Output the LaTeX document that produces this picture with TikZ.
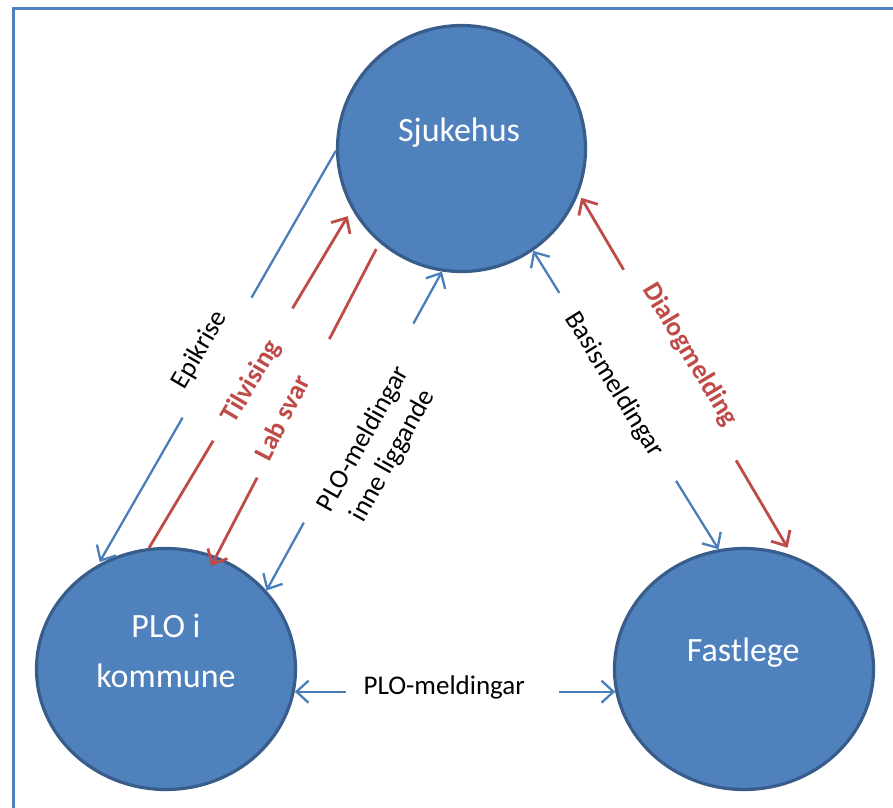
\documentclass[tikz,border=0pt]{standalone}
\usepackage{fontspec}
\setmainfont{Carlito}
\usetikzlibrary{shapes.geometric,arrows.meta}
\definecolor{nodefill}{HTML}{4F81BD}
\definecolor{nodeborder}{HTML}{385D8A}
\definecolor{linkblue}{HTML}{4A7EBB}
\definecolor{linkred}{HTML}{BE4B48}
\definecolor{framecol}{HTML}{4F81BD}
\begin{document}
\begin{tikzpicture}[x=1pt,y=-1pt,
  >={Straight Barb[length=12pt,width=22pt]},
  party/.style={ellipse, draw=nodeborder, line width=3.2pt, fill=nodefill, inner sep=0pt},
  partytext/.style={text=white, font=\fontsize{34}{50}\selectfont, align=center, inner sep=0pt},
  bluelink/.style={draw=linkblue, line width=2.3pt},
  redlink/.style={draw=linkred, line width=2.8pt},
  linkgap/.style={fill=white, inner sep=0pt, minimum height=7pt, sloped},
  lbl/.style={font=\fontsize{27}{34}\selectfont, inner sep=0pt},
  redlbl/.style={inner sep=0pt, text=linkred, font=\fontsize{27}{34}\selectfont\bfseries},
]
\useasboundingbox (0,0) rectangle (893,807);
\draw[framecol, line width=3pt] (13,830) -- (13,8.5) -- (910,8.5);

\node[party, minimum width=248pt, minimum height=246pt] (sj) at (461.5,148.5) {};
\node[party, minimum width=259pt, minimum height=241pt] (plo) at (166,669) {};
\node[party, minimum width=259pt, minimum height=241pt] (fl) at (744,669) {};

\node[partytext] (sjt) at (459,132.5) {Sjukehus};
\node[partytext] (plot) at (166,651) {PLO i\\kommune};
\node[partytext] (flt) at (743.3,652.5) {Fastlege};

\draw[bluelink, ->, shorten >=3pt] (sj.181.6) -- node[linkgap, pos=0.5, minimum width=138pt] (g1) {} (plo.123.8);
\draw[redlink, ->, shorten >=8pt] (plo.98.5) -- node[linkgap, pos=0.512, minimum width=154pt] (g2) {} (sj.209);
\draw[redlink, ->, shorten <=7pt, shorten >=-11pt] (sj.229) -- node[linkgap, pos=0.528, minimum width=156pt] (g3) {} (plo.66.9);
\draw[bluelink, <->] (sj.261.5) -- node[linkgap, pos=0.475, minimum width=227pt] (g4) {} (plo.38.7);
\draw[bluelink, <->] (sj.305.2) -- node[linkgap, pos=0.456, minimum width=221pt] (g5) {} (fl.102.1);
\draw[redlink, <->, shorten <=5pt, shorten >=9pt] (sj.339.1) -- node[linkgap, pos=0.474, minimum width=221pt] (g6) {} (fl.67.3);
\draw[bluelink, <->] (plo.-10.1) -- node[linkgap, pos=0.492, minimum width=213pt] (g7) {} (fl.190);

\node[lbl, rotate=59.7] (l1) at (200,350) {Epikrise};
\node[redlbl, rotate=59.5] (l2) at (251.7,381.7) {Tilvising};
\node[redlbl, rotate=62.6] (l3) at (281.7,417.3) {Lab svar};
\node[lbl, rotate=60.8, align=center] (l4) at (378.3,447.5) {PLO-meldingar\\inne liggande};
\node[lbl, rotate=-58.2] (l5) at (614,385) {Basismeldingar};
\node[redlbl, rotate=-58.9] (l6) at (690,355) {Dialogmelding};
\node[lbl] (l7) at (444.2,687.5) {PLO-meldingar};
\end{tikzpicture}
\end{document}
